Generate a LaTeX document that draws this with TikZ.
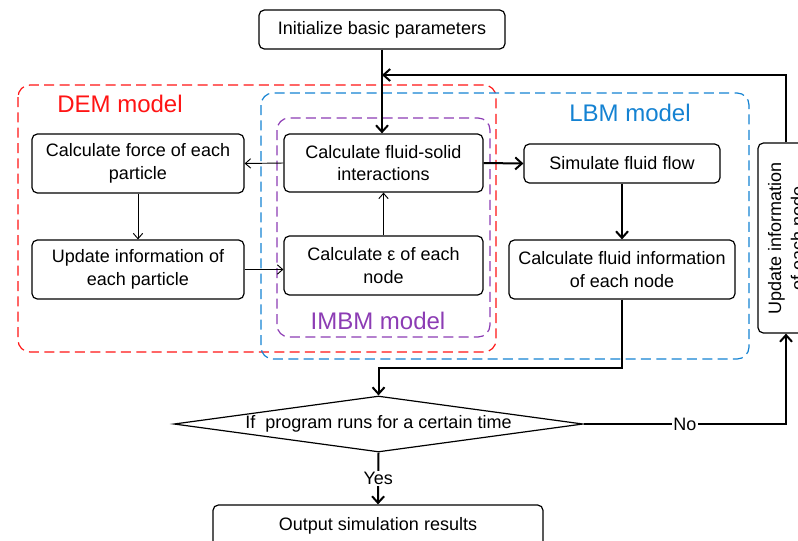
\documentclass[tikz,border=0pt]{standalone}
\usepackage{fontspec}
\setmainfont{Liberation Sans}
\usetikzlibrary{arrows.meta,shapes.geometric}
\definecolor{demred}{RGB}{255,20,20}
\definecolor{lbmblue}{RGB}{20,130,210}
\definecolor{imbmpurple}{RGB}{140,60,180}
\tikzset{
  box/.style={draw, rounded corners=4pt, line width=0.9pt, align=center, font=\fontsize{13.5}{17}\selectfont, inner sep=2pt},
  thinarr/.style={-{Straight Barb[length=4pt,width=7pt]}, line width=0.7pt},
  thickarr/.style={-{Straight Barb[length=5pt,width=9pt]}, line width=1.5pt},
  thickline/.style={line width=1.5pt},
  grp/.style={dash pattern=on 7.5pt off 4pt, line width=0.9pt, rounded corners=9pt},
  grplabel/.style={font=\fontsize{18}{20}\selectfont}
}
\begin{document}
\begin{tikzpicture}[x=0.75pt,y=-0.75pt]
\useasboundingbox (0,0) rectangle (798,540);
% groups
\draw[grp, demred] (18,85) rectangle (496,352);
\draw[grp, lbmblue] (261,93) rectangle (749,359);
\draw[grp, imbmpurple] (277,118) rectangle (490,337);
\node[grplabel, text=demred] (demlbl) at (120,104) {DEM model};
\node[grplabel, text=lbmblue] (lbmlbl) at (630,113) {LBM model};
\node[grplabel, text=imbmpurple] (imbmlbl) at (378,321) {IMBM model};
% boxes
\node[box, minimum width=246*0.75pt, minimum height=39*0.75pt] (init) at (382,29.5) {Initialize basic parameters};
\node[box, minimum width=212*0.75pt, minimum height=59*0.75pt] (force) at (138,163.5) {Calculate force of each\\particle};
\node[box, minimum width=212*0.75pt, minimum height=59*0.75pt] (part) at (138,269.5) {Update information of\\each particle};
\node[box, minimum width=199*0.75pt, minimum height=58*0.75pt] (fs) at (383.5,163) {Calculate fluid-solid\\interactions};
\node[box, minimum width=199*0.75pt, minimum height=59*0.75pt] (eps) at (383.5,265.5) {Calculate ε of each\\node};
\node[box, minimum width=196*0.75pt, minimum height=39*0.75pt] (sim) at (622,163.5) {Simulate fluid flow};
\node[box, minimum width=226*0.75pt, minimum height=59*0.75pt] (cfi) at (622,269.5) {Calculate fluid information\\of each node};
\node[box, rotate=90, minimum width=190*0.75pt, minimum height=56*0.75pt] (upd) at (786,238) {Update information\\of each node};
\node[draw, diamond, line width=0.9pt, aspect=7.3, minimum width=409*0.75pt, minimum height=56*0.75pt, inner sep=0pt, font=\fontsize{13.5}{17}\selectfont] (dec) at (378.5,424) {If\ \ program runs for a certain time};
\node[box, minimum width=330*0.75pt, minimum height=42*0.75pt] (out) at (378,526) {Output simulation results};
\coordinate (fb) at (382,75);
% connectors
\draw[thickarr] (init.south) -- (init.south |- fs.north);
\draw[thickarr] (upd.east) |- (fb);
\draw[thinarr] (fs.west) -- (force.east);
\draw[thinarr] (force.south) -- (part.north);
\draw[thinarr] (part.east) -- (part.east -| eps.west);
\draw[thinarr] (eps.north) -- (fs.south);
\draw[thickarr] (fs.east) -- (sim.west);
\draw[thickarr] (sim.south) -- (cfi.north);
\draw[thickarr] (cfi.south) -- ++(0,68) -| (dec.north);
\draw[thickarr] (dec.east) -| node[pos=0.25, fill=white, inner sep=1pt, font=\fontsize{13.5}{17}\selectfont] {No} (upd.west);
\draw[thickarr] (dec.south) -- node[fill=white, inner sep=1pt, font=\fontsize{13.5}{17}\selectfont] {Yes} (out.north);
\end{tikzpicture}
\end{document}
